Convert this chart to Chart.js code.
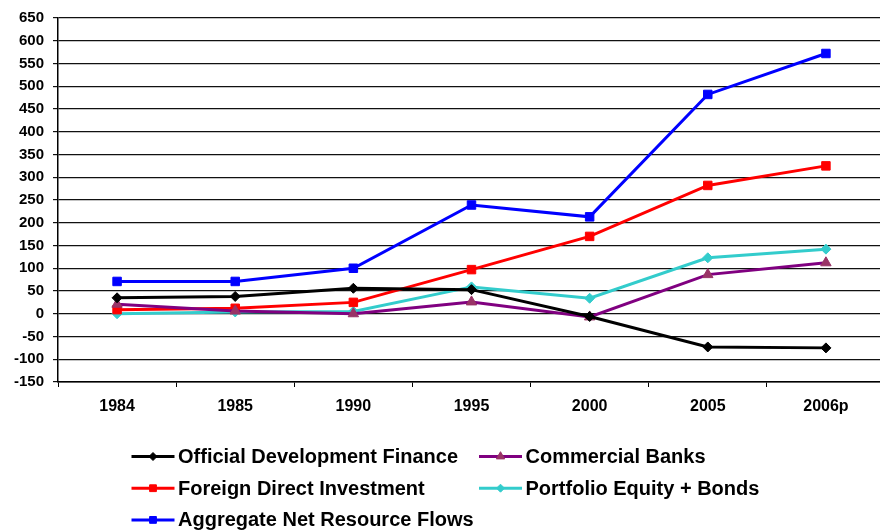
<!DOCTYPE html>
<html><head><meta charset="utf-8">
<script src="https://cdn.jsdelivr.net/npm/chart.js@4/dist/chart.umd.min.js"></script>
<style>html,body{margin:0;padding:0;overflow:hidden;background:#fff}#wrap{position:relative;width:892px;height:531px}</style>
</head><body><div id="wrap"><canvas id="c" width="892" height="531"></canvas></div>
<script>
const categories = ['1984','1985','1990','1995','2000','2005','2006p'];
const officialDev = [35, 38, 56, 53, -6, -73, -75];
const commercialBanks = [21, 6, 0, 26, -7, 86, 112];
const foreignDirect = [9, 12, 25, 97, 170, 282, 325];
const portfolioEquity = [0, 4, 5, 59, 34, 123, 142];
const aggregateFlows = [71, 71, 100, 239, 213, 482, 572];
const yMin = -150, yMax = 650, yStep = 50;

function series(label, data, line, fill, style, radius){
  return {label, data, borderColor: line, backgroundColor: fill,
    pointBackgroundColor: fill, pointBorderColor: fill, pointStyle: style,
    pointRadius: radius, pointHoverRadius: radius, pointBorderWidth: 1,
    borderWidth: 3, tension: 0, fill: false};
}

const legendPlugin = {
  id: 'gridLegend',
  afterDraw(chart){
    const ctx = chart.ctx;
    const ds = chart.data.datasets;
    const x0 = chart.chartArea.left + 73.5;
    const colW = 347.5;
    const y0 = chart.chartArea.bottom + 74.5;
    const rowH = 31.7;
    ds.forEach((d, i) => {
      const col = i % 2, row = Math.floor(i / 2);
      const x = x0 + col * colW, y = y0 + row * rowH;
      ctx.save();
      ctx.strokeStyle = d.borderColor; ctx.lineWidth = 3;
      ctx.beginPath(); ctx.moveTo(x, y); ctx.lineTo(x + 43, y); ctx.stroke();
      ctx.fillStyle = d.pointBackgroundColor; ctx.strokeStyle = d.pointBorderColor; ctx.lineWidth = 1;
      Chart.helpers.drawPoint(ctx, {pointStyle: d.pointStyle, radius: d.pointRadius * 0.8, borderWidth: 1, rotation: 0}, x + 21.5, y);
      ctx.fillStyle = '#000';
      ctx.font = 'bold 20px "Liberation Sans", Arial, sans-serif';
      ctx.textBaseline = 'middle'; ctx.textAlign = 'left';
      ctx.fillText(d.label, x + 46.5, y + 1);
      ctx.restore();
    });
  }
};

new Chart(document.getElementById('c'), {
  type: 'line',
  data: {
    labels: categories,
    datasets: [
      series('Official Development Finance', officialDev, '#000000', '#000000', 'rectRot', 5),
      series('Commercial Banks', commercialBanks, '#800080', '#993366', 'triangle', 6),
      series('Foreign Direct Investment', foreignDirect, '#FF0000', '#FF0000', 'rect', 6),
      series('Portfolio Equity + Bonds', portfolioEquity, '#33CCCC', '#33CCCC', 'rectRot', 5),
      series('Aggregate Net Resource Flows', aggregateFlows, '#0000FF', '#0000FF', 'rect', 6)
    ]
  },
  options: {
    responsive: false,
    animation: false,
    layout: {padding: {top: 16, right: 3, bottom: 109, left: 0}},
    plugins: {legend: {display: false}, tooltip: {enabled: false}},
    scales: {
      x: {
        type: 'category', offset: true,
        grid: {display: true, drawOnChartArea: false, offset: true, tickLength: 5, color: '#000', lineWidth: 1},
        border: {display: true, color: '#000', width: 1.5},
        ticks: {color: '#000', font: {family: '"Liberation Sans", Arial, sans-serif', size: 16, weight: 'bold'}, padding: 10, maxRotation: 0, autoSkip: false},
        afterFit(s){ s.height = 40; }
      },
      y: {
        min: yMin, max: yMax,
        grid: {color: '#111', lineWidth: 1.2, tickLength: 5},
        border: {display: true, color: '#000', width: 1.5},
        ticks: {stepSize: yStep, color: '#000', font: {family: '"Liberation Sans", Arial, sans-serif', size: 15, weight: 'bold'}, padding: 9},
        afterFit(s){ s.width = 58; }
      }
    }
  },
  plugins: [legendPlugin]
});
</script></body></html>
